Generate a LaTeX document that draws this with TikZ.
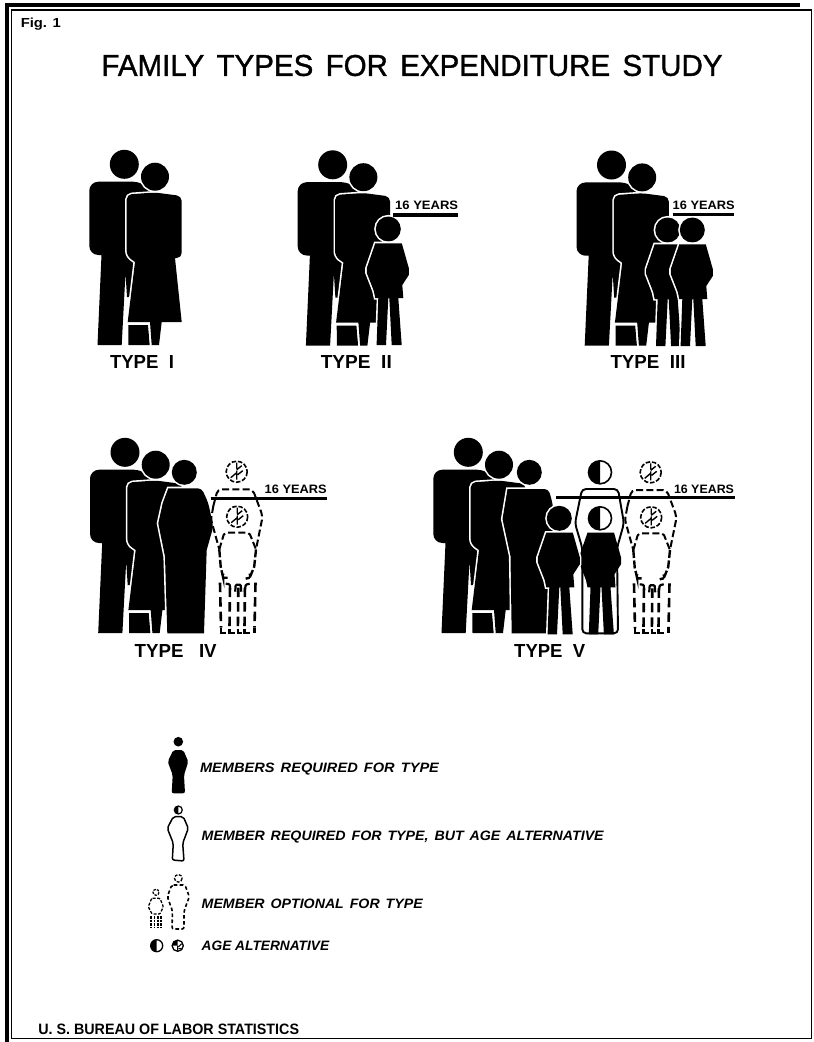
\documentclass[tikz,border=0pt]{standalone}
\usepackage{fontspec}
\usepackage{graphicx}
\setmainfont{Liberation Sans}
\newfontfamily\lett[WordSpace=1.5]{Liberation Sans}
\newfontfamily\titlefont[WordSpace=1.5,FakeBold=1.2]{Liberation Sans}
\newcommand{\fitbox}[3]{\resizebox{#1pt}{#2pt}{#3}}
\tikzset{
  knock/.style={preaction={draw=white,line width=3.2pt},fill=black},
  lab/.style={inner sep=0pt,outer sep=0pt,text=black},
  dashline/.style={draw=black,line width=2pt,dash pattern=on 7pt off 3.2pt},
  legrow/.style={draw=black,line width=2.6pt,dash pattern=on 9.5pt off 5pt},
  legdash/.style={draw=black,line width=1.6pt,dash pattern=on 3.6pt off 2.4pt},
  legline/.style={draw=black,line width=1.5pt},
  ageline/.style={draw=black,line width=3.6pt},
  ring/.style={draw=black,line width=1.6pt},
  hairline/.style={draw=black,line width=1.1pt}
}
% man and woman, in the coordinates of Type I
\newcommand{\couple}[2]{%
\begin{scope}[shift={(#1,#2)}]
  \fill (124.3,164.3) circle (14.5);
  \fill[rounded corners=9pt] (89.3,181.7) -- (142,181.7) -- (152,191) -- (152,297)
     [sharp corners] -- (127,297) -- (125.5,273) -- (121.7,345) -- (97.5,345)
     -- (101.5,255) [rounded corners=9pt] -- (89.3,255) -- cycle;
  \fill (128.3,325) -- (148,325) -- (149.7,345) -- (128.5,345) -- cycle;
  \path[knock] (155,176.7) circle (14);
  \path[knock] [rounded corners=5pt] (126.7,194.5) -- (155,192.5) -- (181.7,196) -- (181.7,258)
     [sharp corners] -- (175,258) -- (181.7,322) -- (161.7,322) -- (159,345) -- (151.7,345)
     -- (150,322) -- (127.7,322) -- (135,262) [rounded corners=5pt] -- (126.7,256) -- cycle;
\end{scope}}
% child: origin at the head
\newcommand{\childbody}{(-13,14.3) -- (13.5,14.3) -- (20.5,39) -- (20.5,46) -- (14,56) -- (15,69)
     -- (10,69) -- (13.4,116) -- (3.4,116) -- (1,69) -- (0,69) -- (-2.3,116) -- (-11.7,116)
     -- (-10,69) -- (-13,69) -- (-14.5,62) -- (-16,58) -- (-21.5,44) -- (-21.5,39) -- cycle}
\newcommand{\child}[2]{%
\begin{scope}[shift={(#1,#2)}]
  \path[knock] (0,0) circle (12.5);
  \path[knock] \childbody;
\end{scope}}
% half-filled head
\newcommand{\halfhead}[3]{%
\begin{scope}[shift={(#1,#2)}]
  \fill (0,#3) arc (90:270:#3) -- cycle;
  \draw[ring] (0,0) circle (#3);
\end{scope}}
% head drawn in broken line
\newcommand{\brokenhead}[3]{%
\begin{scope}[shift={(#1,#2)},scale=#3]
  \draw[ring,dash pattern=on 4.5pt off 1.8pt] (0,0) circle (10.5);
  \draw[ring,line width=1.4pt] (0,-9) -- (0,-3) (0,-1) -- (0,8) (0,1) -- (-6,6) (0,-2) -- (5,-6) (1,3) -- (6,-1);
\end{scope}}
% optional member: origin at the upper head
\newcommand{\optional}[2]{%
\begin{scope}[shift={(#1,#2)}]
  \brokenhead{0}{0}{1}
  \brokenhead{0.5}{45}{1}
  \draw[dashline,rounded corners=4pt] (-23.4,34.4) -- (-19,17.7) -- (16,17.7) -- (26,44.4) -- (19.3,77.7);
  \draw[dashline,rounded corners=2pt] (-23.4,34.4) -- (-25.7,47.7) -- (-17.4,77.7);
  \draw[dashline,rounded corners=2pt] (-17.4,77.7) -- (-12.4,61) -- (12.6,61) -- (19.3,77.7);
  \draw[dashline,line width=2.4pt,dash pattern=on 8pt off 2.5pt] (-17.4,77.7) -- (-16,95) -- (-13.5,106) -- (-13.5,102) (-13.5,106) -- (-9,106);
  \draw[dashline,line width=2.4pt,dash pattern=on 8pt off 2.5pt] (19.3,77.7) -- (17.5,95) -- (13,106) -- (13,102) (13,106) -- (9,107);
  % legs
  \draw[legrow] (-16.7,111) -- (-15.7,156) (18.8,111) -- (17.8,156);
  \draw[legrow,dash pattern=on 9.5pt off 5pt,dash phase=-5pt] (-6.7,111) -- (-7.2,156) (1.7,111) -- (1.2,156) (8.3,111) -- (7.8,156);
  \draw[draw=black,line width=2.2pt,rounded corners=1pt] (-11,112) -- (-7,112.5) -- (-6.4,118);
  \draw[draw=black,line width=2.2pt,rounded corners=1pt] (-1.5,120) -- (-1,113) -- (4,113) -- (4.5,120);
  \draw[draw=black,line width=2.2pt,rounded corners=1pt] (8,120) -- (9,113) -- (13,112);
  \draw[draw=black,line width=2.2pt] (-15.7,156) -- (-15.7,161) -- (-11,161) (-7.2,157) -- (-7.2,161) -- (-2,161) (1.2,157) -- (1.2,161) -- (5,161) (7.8,157) -- (7.8,161) -- (13,161) (17.8,156) -- (17.8,161);
\end{scope}}
\begin{document}
\begin{tikzpicture}[x=1pt,y=-1pt]
\useasboundingbox (0,0) rectangle (814,1042);
% frame
\fill (4.5,3.2) rectangle (800,6.6);
\fill (5,3.2) rectangle (9,1042);
\draw[hairline] (11.5,10) -- (811.8,10) -- (811.8,1038.6) -- (11.5,1038.6) -- cycle;
% title
\node[lab] (title) at (412,65.5) {\fitbox{621}{21}{\titlefont FAMILY TYPES FOR EXPENDITURE STUDY}};
\node[lab] (fig) at (40.8,24.5) {\fitbox{40}{9.5}{\bfseries Fig. 1}};
% Type I
\couple{0}{0}
\node[lab] (t1) at (142,361.7) {\fitbox{64}{13}{\bfseries TYPE\ \ I}};
% Type II
\couple{208.4}{0.5}
\child{388.3}{229}
\draw[ageline] (393.3,215) -- (458,215);
\node[lab] (y2) at (426.7,205) {\fitbox{63}{8.5}{\bfseries 16 YEARS}};
\node[lab] (t2) at (356.3,361.7) {\fitbox{71}{13}{\bfseries TYPE\ \ II}};
% Type III
\couple{487.2}{0.7}
\child{667.7}{230}
\child{692.3}{230}
\draw[ageline] (672.7,214.5) -- (734,214.5);
\node[lab] (y3) at (703.7,205) {\fitbox{62}{8.5}{\bfseries 16 YEARS}};
\node[lab] (t3) at (648,362.3) {\fitbox{75}{13}{\bfseries TYPE\ \ III}};
% Type IV
\couple{0.7}{288}
\path[knock] (184.3,472.3) circle (12.5);
\path[knock] [rounded corners=4pt] (168.3,488.3) -- (201.7,488.3) -- (208.3,503) -- (213.3,526.7)
   [sharp corners] -- (206.7,550) -- (204,633.3) -- (167.3,633.3) -- (165,556.7) -- (158.3,523.3) -- (162.7,503.3) -- cycle;
\optional{236.7}{471.7}
\draw[ageline] (210.7,498.3) -- (326.7,498.3);
\node[lab] (y4) at (295.7,489.3) {\fitbox{62}{8.5}{\bfseries 16 YEARS}};
\node[lab] (t4) at (175.7,650.7) {\fitbox{82}{13}{\bfseries TYPE\ \ \ IV}};
% Type V
\couple{344}{288}
\path[knock] (529.3,472.3) circle (12.5);
\path[knock] [rounded corners=4pt] (507.5,489) -- (548.5,489) -- (552.5,503) -- (558,560)
   [sharp corners] -- (555,633.3) -- (511.7,633.3) -- (510.5,556) -- (502.5,519) -- cycle;
\halfhead{600}{472.3}{11.5}
\draw[legline,line width=1.9pt,rounded corners=4pt] (582,489) -- (618,489) -- (624,523.3) -- (617,548)
   -- (618,633.3) -- (582.3,633.3) -- (582.3,548) -- (575,523.3) -- cycle;
\begin{scope}[shift={(600.5,518.3)}]
  \fill \childbody;
\end{scope}
\halfhead{600}{518.3}{11.5}
\child{559.3}{518.3}
\optional{650.7}{472.3}
\draw[ageline] (556,497.3) -- (735,497.3);
\node[lab] (y5) at (704,489) {\fitbox{60}{8.5}{\bfseries 16 YEARS}};
\node[lab] (t5) at (549.7,650.7) {\fitbox{71}{13}{\bfseries TYPE\ \ V}};
% legend figures
\fill (178.3,741.7) circle (4.8);
\fill[rounded corners=2pt] (173.3,750) -- (183.3,750) -- (188.3,761.7) -- (184,775) -- (185,793.3) -- (171.7,793.3) -- (172.7,775) -- (167.7,761.7) -- cycle;
\begin{scope}[shift={(178.3,810)}]
  \fill (0,4) arc (90:270:4) -- cycle;
  \draw[ring,line width=1.2pt] (0,0) circle (4);
\end{scope}
\draw[legline,rounded corners=2pt] (173.3,816.7) -- (183.3,816.7) -- (188.3,828.3) -- (182.7,843.3) -- (184,861) -- (172.3,860) -- (173.3,843.3) -- (167.3,828.3) -- cycle;
\draw[ring,line width=1.3pt,dash pattern=on 3pt off 1.5pt] (178.3,878.3) circle (3.8);
\draw[legdash,rounded corners=2pt] (171.7,885) -- (185,885) -- (189.3,896.7) -- (184,911) -- (184,929) -- (172,929) -- (172.5,911) -- (167.3,896.7) -- cycle;
\draw[ring,line width=1.2pt,dash pattern=on 2.5pt off 1.2pt] (156,892.3) circle (3);
\draw[legdash,line width=1.3pt,dash pattern=on 3pt off 1.5pt,rounded corners=1pt] (151.7,898.3) -- (160,898.3) -- (163.3,906.7) -- (160,914) -- (152,914) -- (148.3,906.7) -- cycle;
\draw[legdash,line width=1.5pt,dash pattern=on 2.5pt off 1pt] (151,916) -- (151,928) (154.5,916) -- (154.5,928) (158,916) -- (158,928) (161,916) -- (161,928);
\begin{scope}[shift={(156.7,945.7)}]
  \fill (0,6) arc (90:270:6) -- cycle;
  \draw[ring,line width=1.3pt] (0,0) circle (6);
\end{scope}
\begin{scope}[shift={(177.7,945.7)}]
  \draw[ring,line width=1.3pt] (0,0) circle (5.6);
  \fill (0,-5.6) -- (0,0) -- (-5.6,0) arc (180:270:5.6) -- cycle;
  \draw[ring,line width=1pt] (0,0) -- (0,5) (1,1) -- (4,-2) (1,3) -- (4,3);
\end{scope}
% legend texts
\node[lab,anchor=base west] (l1) at (200,772.7) {\fitbox{239}{9.5}{\lett\bfseries\itshape MEMBERS REQUIRED FOR TYPE}};
\node[lab,anchor=base west] (l2) at (201.7,840.7) {\fitbox{402}{9.5}{\lett\bfseries\itshape MEMBER REQUIRED FOR TYPE, BUT AGE ALTERNATIVE}};
\node[lab,anchor=base west] (l3) at (201.7,908) {\fitbox{221}{9.5}{\lett\bfseries\itshape MEMBER OPTIONAL FOR TYPE}};
\node[lab,anchor=base west] (l4) at (201.7,950.4) {\fitbox{127.5}{9.5}{\bfseries\itshape AGE ALTERNATIVE}};
% source
\node[lab] (src) at (168.7,1029.3) {\fitbox{260.7}{10.5}{\bfseries U. S. BUREAU OF LABOR STATISTICS}};
\end{tikzpicture}
\end{document}
